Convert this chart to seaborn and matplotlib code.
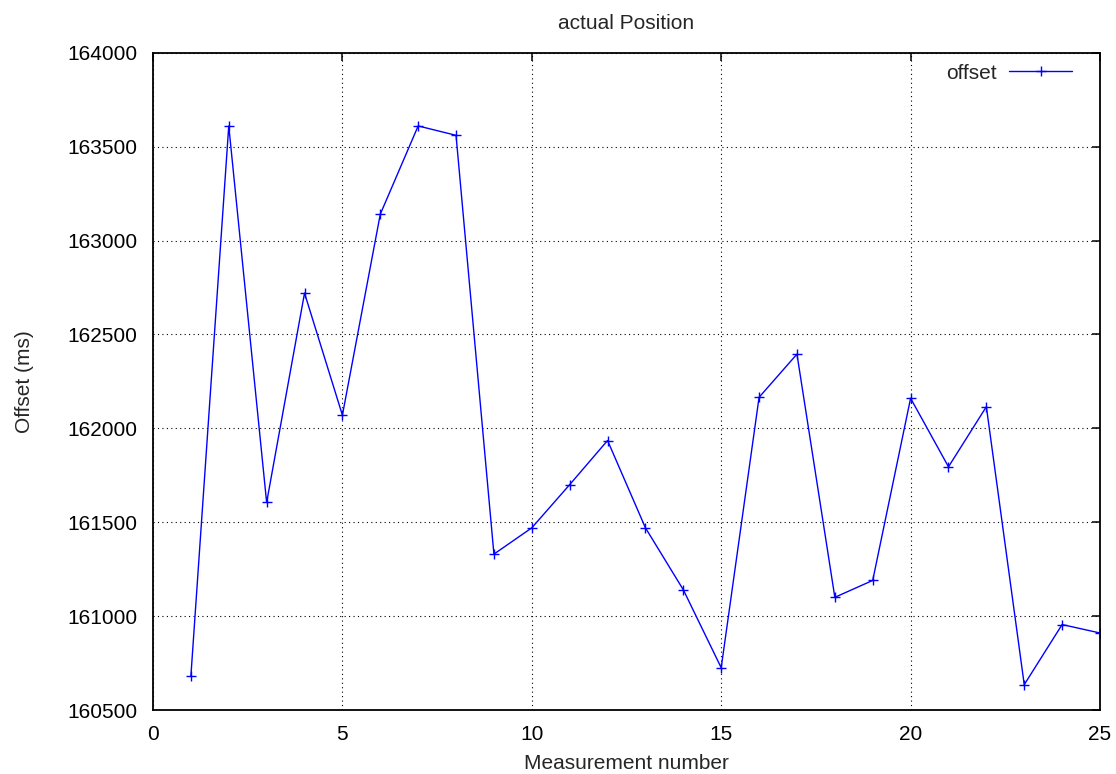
import matplotlib
matplotlib.use("Agg")
import matplotlib.pyplot as plt
from matplotlib.ticker import MultipleLocator, ScalarFormatter
import numpy as np
import pandas as pd
import seaborn as sns

# Measured clock offsets per measurement
measurement = list(range(1, 26))
offset_ms = [160680, 163610, 161605, 162720, 162070, 163140, 163610, 163560,
             161330, 161470, 161700, 161935, 161470, 161140, 160725, 162165,
             162395, 161100, 161190, 162160, 161795, 162115, 160635, 160955,
             160910]

title_text = "actual Position"
x_label = "Measurement number"
y_label = "Offset (ms)"
series_name = "offset"

df = pd.DataFrame({"measurement": measurement, "offset": offset_ms})

sns.set_style("white")
plt.rcParams["font.family"] = ["Liberation Sans", "DejaVu Sans"]
plt.rcParams["font.size"] = 15

fig = plt.figure(figsize=(11.16, 7.74), dpi=100)
ax = fig.add_axes([153 / 1116, 1 - 710 / 774, 947 / 1116, (710 - 52.7) / 774])

sns.lineplot(data=df, x="measurement", y="offset", ax=ax, color="#0000ff",
             linewidth=1.0, marker="+", markersize=7.5, markeredgewidth=1.0,
             markeredgecolor="#0000ff", label=series_name)

ax.set_xlim(0, 25)
ax.set_ylim(160500, 164000)
ax.xaxis.set_major_locator(MultipleLocator(5))
ax.yaxis.set_major_locator(MultipleLocator(500))
fmt = ScalarFormatter(useOffset=False)
fmt.set_scientific(False)
ax.yaxis.set_major_formatter(fmt)

ax.grid(True, color="black", linestyle=(0, (1, 3)), linewidth=0.8)
ax.tick_params(direction="in", length=6, width=1.1, top=True, right=True,
               labelsize=15, pad=11, colors="black")
for s in ax.spines.values():
    s.set_color("black")
    s.set_linewidth(1.3)

ax.set_title(title_text, fontsize=15, pad=17)
ax.set_xlabel(x_label, fontsize=15, labelpad=7)
ax.set_ylabel(y_label, fontsize=15, labelpad=24)

leg = ax.legend(loc="center right", bbox_to_anchor=(0.9704, 0.969),
                frameon=False, markerfirst=False, handlelength=3.0,
                handletextpad=0.6, borderpad=0, borderaxespad=0, fontsize=15)

fig.savefig("out.png", dpi=100)
